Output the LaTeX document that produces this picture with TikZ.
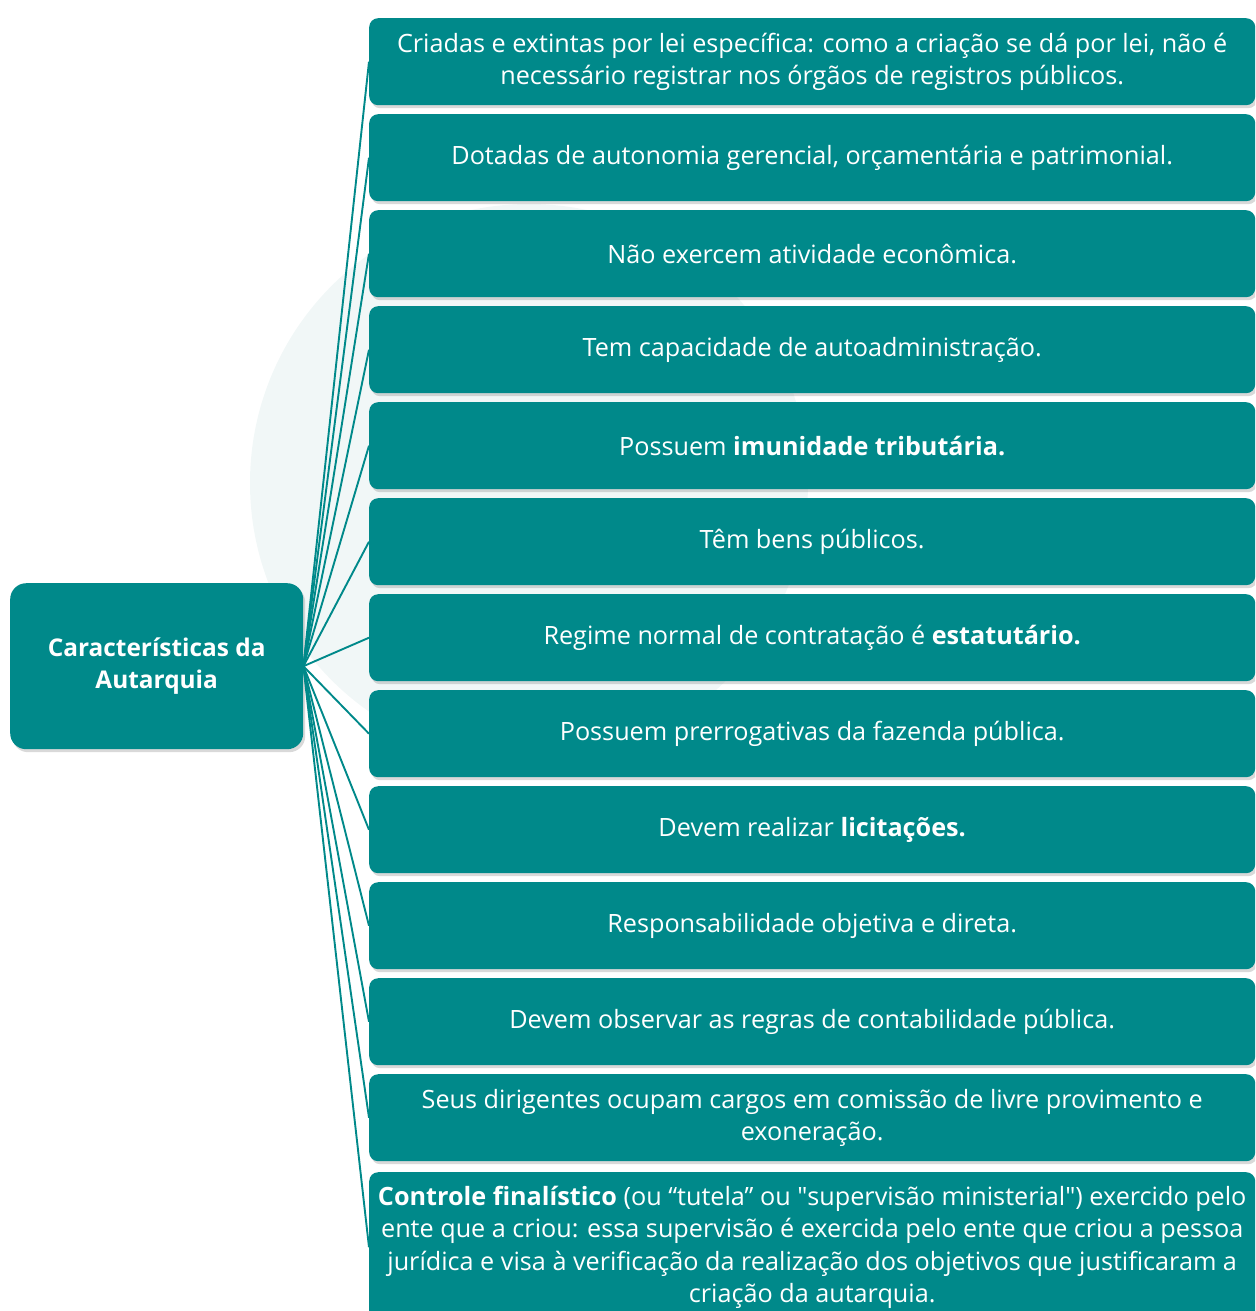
\documentclass[tikz,border=0pt]{standalone}
\usepackage{fontspec}
\setmainfont{Open Sans}
\newfontfamily\plainq{Open Sans}
\usetikzlibrary{shadows}
\definecolor{teal1}{HTML}{00898A}
\definecolor{wm}{HTML}{F1F7F7}
\begin{document}
\begin{tikzpicture}[x=1pt,y=-1pt,
  item/.style={fill=teal1, rounded corners=9pt, anchor=north west, minimum width=886pt, minimum height=87pt, inner sep=0pt, text=white, align=center, font=\fontsize{25.2}{32.5}\selectfont, drop shadow={shadow xshift=2pt, shadow yshift=-3pt, opacity=0.3}},
  root/.style={fill=teal1, rounded corners=16pt, anchor=north west, minimum width=293pt, minimum height=166pt, inner sep=0pt, text=white, align=center, font=\fontsize{24.4}{32}\selectfont\bfseries, drop shadow={shadow xshift=2pt, shadow yshift=-3pt, opacity=0.3}},
  link/.style={draw=teal1, line width=1.9pt}]
\useasboundingbox (0,0) rectangle (1255,1311);
\clip (0,0) rectangle (1255,1311);
\fill[wm] (529,483) circle (279);
\node[root] (r) at (10,583) {Características da\\Autarquia};
\node[item] (b1) at (369,18) {Criadas e extintas por lei específica: como a criação se dá por lei, não é\\necessário registrar nos órgãos de registros públicos.};
\node[item] (b2) at (369,114) {Dotadas de autonomia gerencial, orçamentária e patrimonial.};
\node[item] (b3) at (369,210) {Não exercem atividade econômica.};
\node[item] (b4) at (369,306) {Tem capacidade de autoadministração.};
\node[item] (b5) at (369,402) {Possuem \textbf{imunidade tributária.}};
\node[item] (b6) at (369,498) {Têm bens públicos.};
\node[item] (b7) at (369,594) {Regime normal de contratação é \textbf{estatutário.}};
\node[item] (b8) at (369,690) {Possuem prerrogativas da fazenda pública.};
\node[item] (b9) at (369,786) {Devem realizar \textbf{licitações.}};
\node[item] (b10) at (369,882) {Responsabilidade objetiva e direta.};
\node[item] (b11) at (369,978) {Devem observar as regras de contabilidade pública.};
\node[item] (b12) at (369,1074) {Seus dirigentes ocupam cargos em comissão de livre provimento e\\exoneração.};
\node[item, minimum height=150pt, anchor=north west] (b13) at (369,1172) {\textbf{Controle finalístico} (ou “tutela” ou {\plainq"}supervisão ministerial{\plainq"}) exercido pelo\\ente que a criou: essa supervisão é exercida pelo ente que criou a pessoa\\jurídica e visa à verificação da realização dos objetivos que justificaram a\\criação da autarquia.};
\foreach \i in {1,...,13} {\draw[link] (r.east) -- (b\i.west);}
\end{tikzpicture}
\end{document}
